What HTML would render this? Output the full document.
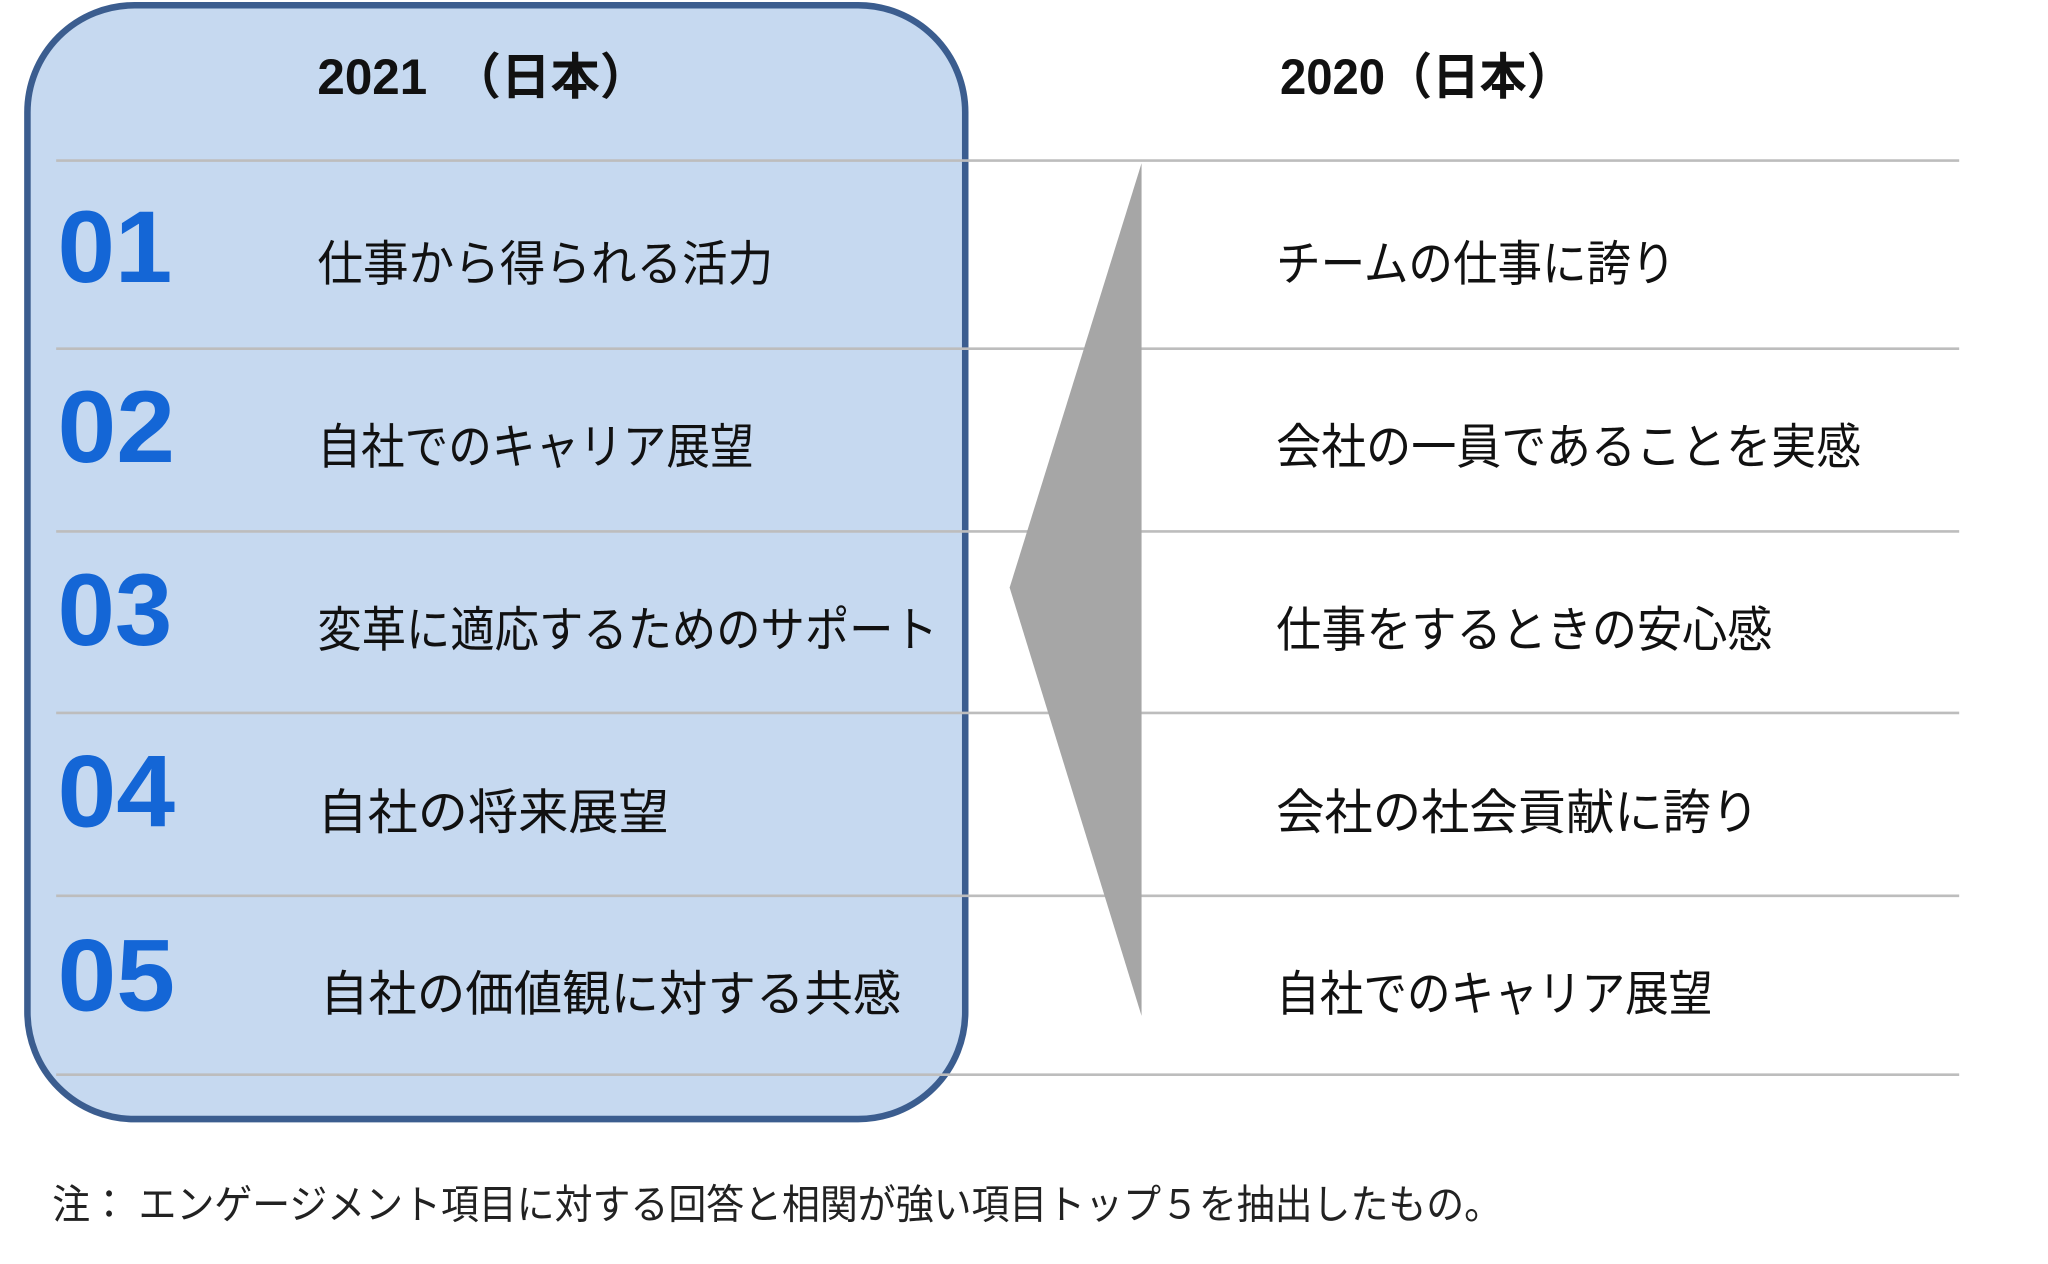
<!DOCTYPE html>
<html><head><meta charset="utf-8"><style>
html,body{margin:0;padding:0;background:#fff;}
svg{display:block;}
text{font-family:"Liberation Sans","Noto Sans CJK JP",sans-serif;}
</style></head><body>
<svg width="2048" height="1264" viewBox="0 0 1568 968" preserveAspectRatio="none" xmlns="http://www.w3.org/2000/svg">
<rect x="21" y="4" width="718" height="853" rx="82" ry="82" fill="#c6d9f0" stroke="#3b5d8f" stroke-width="5"/>
<g stroke="#bdbdbd" stroke-width="2">
<line x1="43" y1="123" x2="1500" y2="123"/>
<line x1="43" y1="267" x2="1500" y2="267"/>
<line x1="43" y1="407" x2="1500" y2="407"/>
<line x1="43" y1="546" x2="1500" y2="546"/>
<line x1="43" y1="686" x2="1500" y2="686"/>
<line x1="43" y1="823" x2="1500" y2="823"/>
</g>
<polygon points="874,125 773,450 874,778" fill="#a6a6a6"/>
<g font-weight="bold" font-size="38" fill="#111">
<text x="243" y="72" textLength="254" lengthAdjust="spacingAndGlyphs">2021　（日本）</text>
<text x="980" y="72" textLength="225" lengthAdjust="spacingAndGlyphs">2020（日本）</text>
</g>
<g font-weight="bold" font-size="78" fill="#1466d6">
<text x="44" y="216" textLength="88" lengthAdjust="spacingAndGlyphs">01</text>
<text x="44" y="354" textLength="90" lengthAdjust="spacingAndGlyphs">02</text>
<text x="44" y="494" textLength="88" lengthAdjust="spacingAndGlyphs">03</text>
<text x="44" y="633" textLength="90" lengthAdjust="spacingAndGlyphs">04</text>
<text x="44" y="774" textLength="90" lengthAdjust="spacingAndGlyphs">05</text>
</g>
<g font-size="37" fill="#111" lengthAdjust="spacingAndGlyphs">
<text x="243" y="215" textLength="349" lengthAdjust="spacingAndGlyphs">仕事から得られる活力</text>
<text x="243" y="355" textLength="334" lengthAdjust="spacingAndGlyphs">自社でのキャリア展望</text>
<text x="243" y="495" textLength="475" lengthAdjust="spacingAndGlyphs">変革に適応するためのサポート</text>
<text x="243" y="635" textLength="269" lengthAdjust="spacingAndGlyphs">自社の将来展望</text>
<text x="245" y="774" textLength="445" lengthAdjust="spacingAndGlyphs">自社の価値観に対する共感</text>
<text x="977" y="215" textLength="306" lengthAdjust="spacingAndGlyphs">チームの仕事に誇り</text>
<text x="977" y="355" textLength="448" lengthAdjust="spacingAndGlyphs">会社の一員であることを実感</text>
<text x="977" y="495" textLength="380" lengthAdjust="spacingAndGlyphs">仕事をするときの安心感</text>
<text x="977" y="635" textLength="370" lengthAdjust="spacingAndGlyphs">会社の社会貢献に誇り</text>
<text x="977" y="774" textLength="334" lengthAdjust="spacingAndGlyphs">自社でのキャリア展望</text>
</g>
<text x="40" y="933" font-size="31" fill="#222" textLength="1110" lengthAdjust="spacingAndGlyphs">注：  エンゲージメント項目に対する回答と相関が強い項目トップ５を抽出したもの。</text>
</svg>
</body></html>
